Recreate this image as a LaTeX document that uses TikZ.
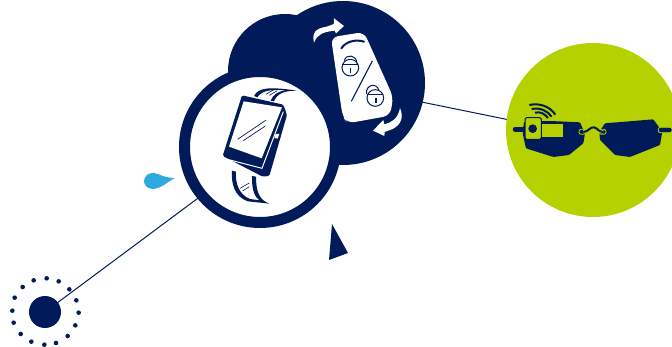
\documentclass[tikz,border=0pt]{standalone}
\usetikzlibrary{backgrounds,calc}
\definecolor{navy}{HTML}{001A5A}
\definecolor{lime}{HTML}{B5D100}
\definecolor{drop}{HTML}{2EA9E0}
\tikzset{
  disc/.style={circle,inner sep=0pt,minimum size=#1,fill=navy},
  ring/.style={circle,inner sep=0pt,minimum size=#1,fill=white,draw=navy,line width=11pt},
  link/.style={draw=navy,line width=1pt},
  ln/.style={draw=navy,line width=1.2pt},
  fw/.style={fill=white},
}
\begin{document}
\begin{tikzpicture}[x=1pt,y=-1pt]
\useasboundingbox (0,0) rectangle (672,347);
% discs
\node[disc=114pt] (back) at (285,71) {};
\node[disc=164pt] (key) at (343,83) {};
\node[ring=151pt] (watch) at (260,147) {};
\node[circle,inner sep=0pt,minimum size=174pt,fill=lime] (glasses) at (593,130) {};
\node[disc=32pt] (dot) at (45,312) {};
\begin{scope}[on background layer]
\draw[link] (dot.center) -- ($(watch.center)+(0,5)$);
\draw[link] ($(key.center)+(0,3)$) -- ($(glasses.center)+(0,7)$);
\end{scope}
% dotted ring
\foreach \p/\q in {140/355,176/364,208/388,229/421,236/458,226/496,203/528,168/549,133/554,94/545,62/522,41/488,37/452,44/413,68/381,101/361}
  \fill[navy] ({\p/3},{160+\q/3}) circle (2.3pt);
% drop
\fill[drop] (175,178) .. controls (168,181) and (163,188) .. (153,189)
  .. controls (147,189) and (144,185) .. (144,181)
  .. controls (144,176) and (149,172.5) .. (154,173)
  .. controls (160,174) and (164,178) .. (175,178) -- cycle;
% triangle
\fill[navy] (332,224) -- (348,253) -- (329,260) -- cycle;
% watch, key (zoom coordinates)
\begin{scope}[shift={(180,0)},x=0.3333pt,y=-0.3333pt]
  % straps
  \fill[navy] (222,288) .. controls (235,262) and (270,260) .. (352,272)
    .. controls (312,272) and (292,280) .. (282,304) -- (272,302)
    .. controls (280,282) and (295,274) .. (318,271)
    .. controls (280,268) and (245,270) .. (232,292) -- cycle;
  \draw[ln,line width=.6pt] (258,283) -- (285,267) (268,286) -- (292,272);
  \fill[navy] (156,512) .. controls (153,550) and (163,590) .. (203,604)
    -- (268,611) .. controls (238,600) and (228,575) .. (228,530) -- (216,528)
    .. controls (215,570) and (224,590) .. (238,601) -- (210,597)
    .. controls (178,585) and (165,550) .. (168,515) -- cycle;
  \draw[ln,line width=.6pt] (180,565) -- (208,549) (188,573) -- (208,560);
  % watch body
  \fill[navy,rounded corners=1.5pt] (186,286) -- (310,314) -- (321,345) -- (268,528) -- (248,530) -- (128,468) -- cycle;
  \fill[navy,rounded corners=1pt] (288,392) -- (304,396) -- (298,422) -- (282,420) -- cycle;
  \fill[fw] (287,402) -- (298,402) -- (293,416) -- (283,414) -- cycle;
  \draw[white,line width=1pt] (134,476) -- (246,505) -- (310,335);
  \fill[fw,rounded corners=.5pt] (191,304) -- (306,322) -- (245,475) -- (147,440) -- cycle;
  \draw[ln,line width=.7pt] (173,418) -- (257,361) (190,422) -- (256,378);
  % key fob
  \fill[fw,rounded corners=7pt] (453,112) -- (552,96) -- (640,292) -- (630,347) -- (503,370) -- (488,350) -- cycle;
  \draw[navy,line width=2pt,line cap=round] (484,145) .. controls (500,122) and (530,118) .. (552,125);
  \draw[ln,line width=1.1pt] (577,183) -- (514,304);
  % padlock 1
  \draw[navy,line width=1pt] (511,203) circle (25);
  \draw[navy,line width=1pt] (488,193) -- (535,193);
  \draw[navy,line width=1pt] (493,182) .. controls (498,160) and (532,165) .. (530,190);
  \fill[navy] (509,205) rectangle (513,218);
  % padlock 2
  \draw[navy,line width=1pt] (586,294) circle (25);
  \draw[navy,line width=1pt] (562,285) -- (610,285);
  \draw[navy,line width=1pt] (560,282) .. controls (555,255) and (590,245) .. (597,272);
  \fill[navy] (586,295) rectangle (590,308);
  % arrows
  \fill[fw] (402,128) .. controls (396,100) and (405,85) .. (440,80) -- (462,72) -- (462,55) -- (492,78) -- (468,100) -- (464,92)
    .. controls (430,96) and (412,102) .. (402,128) -- cycle;
  \fill[fw] (660,324) .. controls (674,355) and (660,382) .. (625,392) -- (614,396) -- (613,408) -- (579,392) -- (610,360) -- (613,373)
    .. controls (635,368) and (655,355) .. (660,324) -- cycle;
\end{scope}
% glasses
\begin{scope}[shift={(500,90)},x=0.3333pt,y=-0.3333pt]
  \draw[navy,line width=4.5pt,line cap=round] (45,118) -- (75,118);
  \fill[navy,rounded corners=1pt] (72,95) -- (150,93) -- (240,97) -- (255,130) -- (250,160) -- (207,195) -- (160,201) -- (78,175) -- (68,130) -- cycle;
  \fill[navy,rounded corners=1pt] (315,100) -- (460,88) -- (487,125) -- (480,165) -- (390,201) -- (345,195) -- (300,150) -- (298,125) -- cycle;
  \draw[lime,line width=.8pt,fill=navy,rounded corners=2pt] (475,112) rectangle (516,128);
  \draw[lime,line width=.8pt,fill=navy,rounded corners=2pt] (237,118) rectangle (258,133);
  \draw[lime,line width=.8pt,fill=navy,rounded corners=2pt] (298,118) rectangle (318,133);
  \draw[lime,line width=3.4pt] (250,126) .. controls (265,126) and (270,110) .. (282,112) .. controls (292,114) and (296,126) .. (310,126);
  \draw[navy,line width=2pt] (250,126) .. controls (265,126) and (270,110) .. (282,112) .. controls (292,114) and (296,126) .. (310,126);
  \draw[navy,line width=1pt,fill=lime] (125,100) rectangle (192,142);
  \draw[navy,line width=1pt,fill=lime,rounded corners=1.5pt] (75,83) rectangle (124,148);
  \fill[navy] (98,116) circle (13);
  \draw[navy,line width=2pt] (88,45) .. controls (120,38) and (150,50) .. (166,74);
  \draw[navy,line width=2pt] (95,57) .. controls (120,52) and (142,62) .. (155,80);
  \draw[navy,line width=2pt] (105,68) .. controls (122,64) and (135,72) .. (144,84);
\end{scope}
\end{tikzpicture}
\end{document}
